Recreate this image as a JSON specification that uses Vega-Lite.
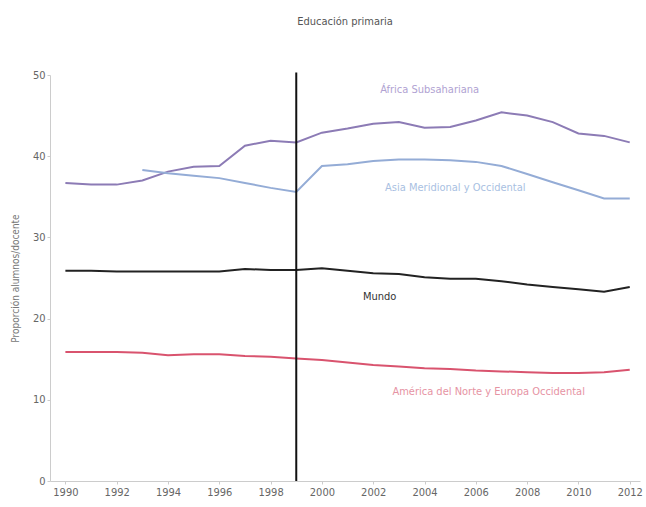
{
  "$schema": "https://vega.github.io/schema/vega-lite/v6.json",
  "width": 590,
  "height": 406,
  "autosize": {"type": "none"},
  "padding": {"left": 50, "top": 75, "right": 6, "bottom": 26},
  "background": "white",
  "config": {"view": {"stroke": null}, "font": "DejaVu Sans Condensed, Liberation Sans, sans-serif"},
  "title": {"text": "Educación primaria", "fontSize": 11, "fontWeight": "normal", "color": "#555555", "font": "DejaVu Sans Condensed, Liberation Sans, sans-serif", "offset": 42, "anchor": "middle"},
  "datasets": {
    "series": [
      {"year": 1990, "series": "Africa", "value": 36.7},
      {"year": 1991, "series": "Africa", "value": 36.5},
      {"year": 1992, "series": "Africa", "value": 36.5},
      {"year": 1993, "series": "Africa", "value": 37.0},
      {"year": 1994, "series": "Africa", "value": 38.1},
      {"year": 1995, "series": "Africa", "value": 38.7},
      {"year": 1996, "series": "Africa", "value": 38.8},
      {"year": 1997, "series": "Africa", "value": 41.3},
      {"year": 1998, "series": "Africa", "value": 41.9},
      {"year": 1999, "series": "Africa", "value": 41.7},
      {"year": 2000, "series": "Africa", "value": 42.9},
      {"year": 2001, "series": "Africa", "value": 43.4},
      {"year": 2002, "series": "Africa", "value": 44.0},
      {"year": 2003, "series": "Africa", "value": 44.2},
      {"year": 2004, "series": "Africa", "value": 43.5},
      {"year": 2005, "series": "Africa", "value": 43.6},
      {"year": 2006, "series": "Africa", "value": 44.4},
      {"year": 2007, "series": "Africa", "value": 45.4},
      {"year": 2008, "series": "Africa", "value": 45.0},
      {"year": 2009, "series": "Africa", "value": 44.2},
      {"year": 2010, "series": "Africa", "value": 42.8},
      {"year": 2011, "series": "Africa", "value": 42.5},
      {"year": 2012, "series": "Africa", "value": 41.7},
      {"year": 1993, "series": "Asia", "value": 38.3},
      {"year": 1994, "series": "Asia", "value": 37.9},
      {"year": 1995, "series": "Asia", "value": 37.6},
      {"year": 1996, "series": "Asia", "value": 37.3},
      {"year": 1997, "series": "Asia", "value": 36.7},
      {"year": 1998, "series": "Asia", "value": 36.1},
      {"year": 1999, "series": "Asia", "value": 35.6},
      {"year": 2000, "series": "Asia", "value": 38.8},
      {"year": 2001, "series": "Asia", "value": 39.0},
      {"year": 2002, "series": "Asia", "value": 39.4},
      {"year": 2003, "series": "Asia", "value": 39.6},
      {"year": 2004, "series": "Asia", "value": 39.6},
      {"year": 2005, "series": "Asia", "value": 39.5},
      {"year": 2006, "series": "Asia", "value": 39.3},
      {"year": 2007, "series": "Asia", "value": 38.8},
      {"year": 2008, "series": "Asia", "value": 37.8},
      {"year": 2009, "series": "Asia", "value": 36.8},
      {"year": 2010, "series": "Asia", "value": 35.8},
      {"year": 2011, "series": "Asia", "value": 34.8},
      {"year": 2012, "series": "Asia", "value": 34.8},
      {"year": 1990, "series": "Mundo", "value": 25.9},
      {"year": 1991, "series": "Mundo", "value": 25.9},
      {"year": 1992, "series": "Mundo", "value": 25.8},
      {"year": 1993, "series": "Mundo", "value": 25.8},
      {"year": 1994, "series": "Mundo", "value": 25.8},
      {"year": 1995, "series": "Mundo", "value": 25.8},
      {"year": 1996, "series": "Mundo", "value": 25.8},
      {"year": 1997, "series": "Mundo", "value": 26.1},
      {"year": 1998, "series": "Mundo", "value": 26.0},
      {"year": 1999, "series": "Mundo", "value": 26.0},
      {"year": 2000, "series": "Mundo", "value": 26.2},
      {"year": 2001, "series": "Mundo", "value": 25.9},
      {"year": 2002, "series": "Mundo", "value": 25.6},
      {"year": 2003, "series": "Mundo", "value": 25.5},
      {"year": 2004, "series": "Mundo", "value": 25.1},
      {"year": 2005, "series": "Mundo", "value": 24.9},
      {"year": 2006, "series": "Mundo", "value": 24.9},
      {"year": 2007, "series": "Mundo", "value": 24.6},
      {"year": 2008, "series": "Mundo", "value": 24.2},
      {"year": 2009, "series": "Mundo", "value": 23.9},
      {"year": 2010, "series": "Mundo", "value": 23.6},
      {"year": 2011, "series": "Mundo", "value": 23.3},
      {"year": 2012, "series": "Mundo", "value": 23.9},
      {"year": 1990, "series": "America", "value": 15.9},
      {"year": 1991, "series": "America", "value": 15.9},
      {"year": 1992, "series": "America", "value": 15.9},
      {"year": 1993, "series": "America", "value": 15.8},
      {"year": 1994, "series": "America", "value": 15.5},
      {"year": 1995, "series": "America", "value": 15.6},
      {"year": 1996, "series": "America", "value": 15.6},
      {"year": 1997, "series": "America", "value": 15.4},
      {"year": 1998, "series": "America", "value": 15.3},
      {"year": 1999, "series": "America", "value": 15.1},
      {"year": 2000, "series": "America", "value": 14.9},
      {"year": 2001, "series": "America", "value": 14.6},
      {"year": 2002, "series": "America", "value": 14.3},
      {"year": 2003, "series": "America", "value": 14.1},
      {"year": 2004, "series": "America", "value": 13.9},
      {"year": 2005, "series": "America", "value": 13.8},
      {"year": 2006, "series": "America", "value": 13.6},
      {"year": 2007, "series": "America", "value": 13.5},
      {"year": 2008, "series": "America", "value": 13.4},
      {"year": 2009, "series": "America", "value": 13.3},
      {"year": 2010, "series": "America", "value": 13.3},
      {"year": 2011, "series": "America", "value": 13.4},
      {"year": 2012, "series": "America", "value": 13.7}
    ],
    "labels": [
      {"year": 2004.2, "value": 48.2, "series": "Africa", "label": "África Subsahariana"},
      {"year": 2005.2, "value": 36.1, "series": "Asia", "label": "Asia Meridional y Occidental"},
      {"year": 2002.25, "value": 22.7, "series": "Mundo", "label": "Mundo"},
      {"year": 2006.5, "value": 11.0, "series": "America", "label": "América del Norte y Europa Occidental"}
    ]
  },
  "layer": [
    {
      "data": {"name": "series"},
      "mark": {"type": "line", "strokeWidth": 2},
      "encoding": {
        "x": {"field": "year", "type": "quantitative",
          "scale": {"domain": [1989.4, 2012.4], "nice": false, "zero": false},
          "axis": {"title": null, "values": [1990,1992,1994,1996,1998,2000,2002,2004,2006,2008,2010,2012], "format": "d", "grid": false, "domainColor": "#cccccc", "tickColor": "#cccccc", "tickSize": 3, "labelColor": "#666666", "labelFontSize": 11, "labelPadding": 2}},
        "y": {"field": "value", "type": "quantitative",
          "scale": {"domain": [0, 50], "nice": false},
          "axis": {"title": "Proporción alumnos/docente", "values": [0,10,20,30,40,50], "grid": false, "domainColor": "#cccccc", "tickColor": "#cccccc", "tickSize": 3, "labelColor": "#666666", "labelFontSize": 11, "titleColor": "#777777", "titleFontSize": 10, "titleFontWeight": "normal", "titlePadding": 12}},
        "color": {"field": "series", "type": "nominal",
          "scale": {"domain": ["Africa", "Asia", "Mundo", "America"], "range": ["#8c7bb5", "#94acd6", "#222222", "#d9536e"]},
          "legend": null}
      }
    },
    {
      "data": {"name": "labels"},
      "mark": {"type": "text", "fontSize": 11, "align": "center", "baseline": "middle"},
      "encoding": {
        "x": {"field": "year", "type": "quantitative"},
        "y": {"field": "value", "type": "quantitative"},
        "text": {"field": "label"},
        "color": {"field": "series", "type": "nominal",
          "scale": {"domain": ["Africa", "Asia", "Mundo", "America"], "range": ["#b0a2d2", "#a9bfe2", "#333333", "#e693a3"]},
          "legend": null}
      }
    },
    {
      "data": {"values": [{"year": 1999, "y0": 0, "y1": 50.3}]},
      "mark": {"type": "rule", "color": "#111111", "strokeWidth": 2},
      "encoding": {
        "x": {"field": "year", "type": "quantitative"},
        "y": {"field": "y0", "type": "quantitative"},
        "y2": {"field": "y1"}
      }
    }
  ],
  "resolve": {"scale": {"color": "independent"}}
}
